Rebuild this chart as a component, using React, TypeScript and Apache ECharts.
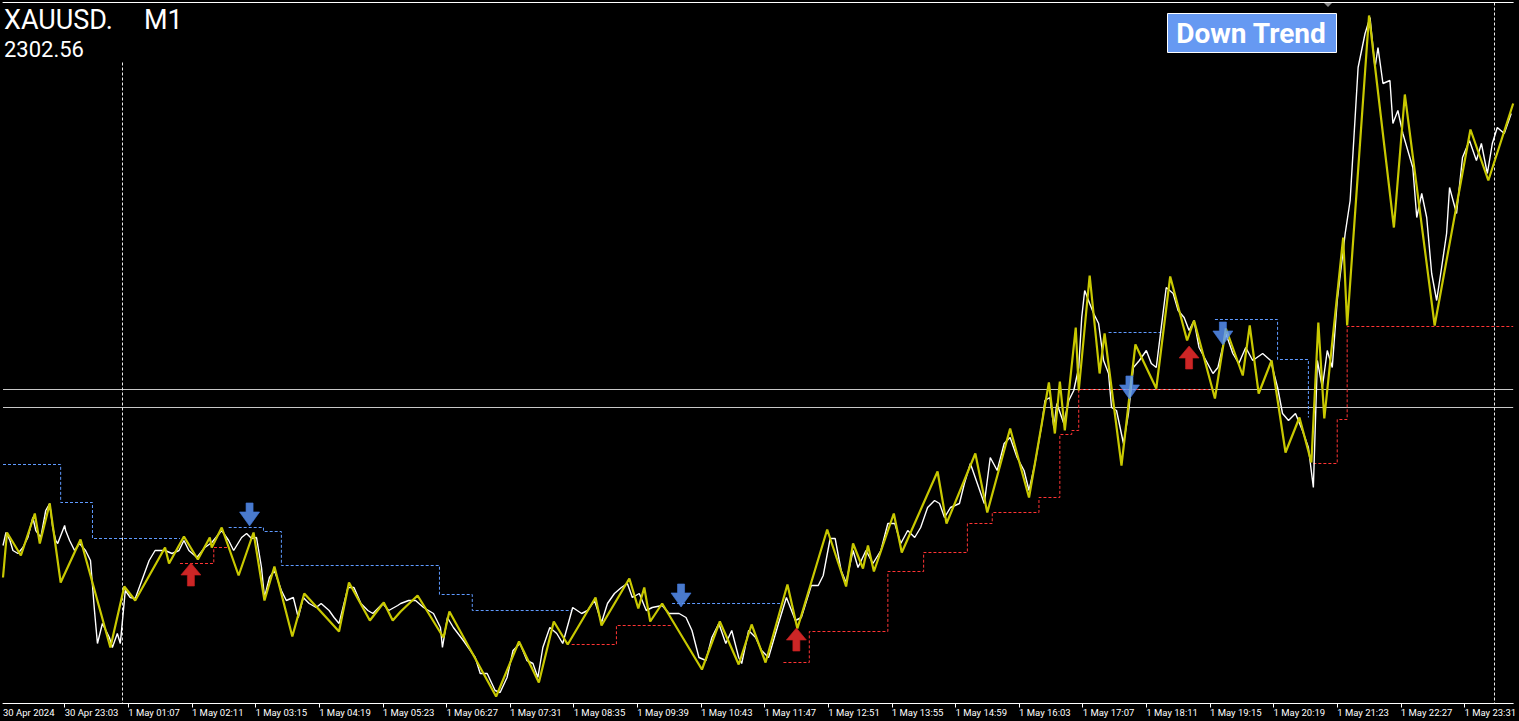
import React, { useEffect, useRef } from "react";
import * as echarts from "echarts";

// ---- texts ----
const symbolName = "XAUUSD.";
const timeframe = "M1";
const priceText = "2302.56";
const trendText = "Down Trend";

// ---- time axis (bar index = minute bars shown) ----
const firstLabelValue = 0;
const firstLabel = "30 Apr 2024";
const tickMinutes = [62, 126, 190, 254, 318, 382, 446, 510, 574, 638, 702, 766, 830, 894, 958, 1022, 1086, 1150, 1214, 1278, 1342, 1406, 1470];
const tickLabels = [
  "30 Apr 23:03", "1 May 01:07", "1 May 02:11", "1 May 03:15", "1 May 04:19", "1 May 05:23",
  "1 May 06:27", "1 May 07:31", "1 May 08:35", "1 May 09:39", "1 May 10:43", "1 May 11:47",
  "1 May 12:51", "1 May 13:55", "1 May 14:59", "1 May 16:03", "1 May 17:07", "1 May 18:11",
  "1 May 19:15", "1 May 20:19", "1 May 21:23", "1 May 22:27", "1 May 23:31",
];
const barMin = 0;
const barMax = 1519;
const priceMin = 2294.85;
const priceMax = 2329.9;

// ---- M1 close prices [bar, price] ----
const closePrices: [number, number][] = [
  [0, 2302.75], [3, 2303.4], [7, 2303.0], [10, 2302.5], [15, 2302.35], [20, 2302.65], [25, 2303.15], [30, 2304.15],
  [33, 2303.5], [38, 2303.15], [43, 2304.5], [47, 2304.85], [50, 2303.65], [53, 2303.0], [55, 2302.85], [62, 2303.75],
  [63, 2303.5], [67, 2303.0], [72, 2302.5], [77, 2302.85], [83, 2302.5], [88, 2302.0], [92, 2299.5], [95, 2297.85],
  [100, 2298.85], [107, 2298.15], [110, 2297.65], [115, 2298.35], [118, 2297.85], [123, 2300.5], [128, 2300.15], [133, 2300.1],
  [147, 2302.0], [153, 2302.5], [163, 2302.5], [170, 2302.35], [177, 2302.5], [182, 2303.0], [187, 2302.5], [195, 2302.15],
  [203, 2302.65], [210, 2302.9], [220, 2303.5], [227, 2303.0], [232, 2302.5], [240, 2303.15], [245, 2303.35], [250, 2303.1],
  [255, 2303.15], [260, 2301.65], [263, 2300.15], [268, 2301.15], [273, 2301.5], [280, 2300.5], [285, 2300.0], [292, 2300.15],
  [297, 2299.15], [302, 2300.15], [308, 2299.85], [315, 2299.65], [320, 2299.85], [328, 2299.5], [333, 2299.15], [338, 2298.85],
  [347, 2300.65], [353, 2300.65], [360, 2299.85], [367, 2299.5], [372, 2299.35], [382, 2299.85], [388, 2299.5], [397, 2299.75],
  [400, 2299.85], [408, 2300.0], [415, 2300.0], [423, 2299.65], [433, 2299.35], [440, 2298.65], [442, 2297.65], [447, 2299.15],
  [453, 2298.65], [463, 2298.0], [475, 2297.15], [480, 2296.35], [487, 2296.35], [495, 2295.5], [500, 2295.4], [507, 2296.15],
  [513, 2297.5], [520, 2297.85], [527, 2297.0], [533, 2296.85], [538, 2296.15], [543, 2297.65], [550, 2298.65], [557, 2298.35],
  [563, 2297.85], [573, 2299.65], [582, 2299.35], [588, 2299.5], [595, 2300.0], [602, 2298.9], [608, 2299.85], [615, 2300.35],
  [622, 2300.65], [628, 2300.85], [633, 2300.15], [640, 2300.35], [647, 2299.5], [653, 2299.65], [663, 2299.75], [670, 2299.35],
  [680, 2299.35], [687, 2299.15], [693, 2298.5], [700, 2297.15], [707, 2297.0], [713, 2298.15], [720, 2298.85], [727, 2297.85],
  [733, 2298.5], [740, 2297.15], [743, 2296.85], [750, 2298.5], [757, 2298.15], [763, 2297.5], [770, 2297.15], [780, 2298.85],
  [788, 2300.15], [797, 2299.0], [803, 2299.15], [813, 2300.75], [820, 2300.75], [825, 2301.25], [832, 2303.1], [837, 2303.1],
  [843, 2301.5], [848, 2300.9], [855, 2302.5], [860, 2301.65], [868, 2302.5], [875, 2301.85], [883, 2302.5], [890, 2303.85],
  [897, 2303.85], [903, 2302.85], [910, 2303.5], [917, 2303.15], [923, 2303.65], [930, 2304.65], [937, 2305.0], [942, 2304.85],
  [947, 2304.15], [953, 2304.65], [962, 2304.85], [967, 2305.85], [973, 2306.85], [980, 2305.85], [987, 2304.85], [993, 2307.15],
  [1000, 2306.5], [1007, 2307.85], [1013, 2308.15], [1020, 2307.15], [1027, 2306.5], [1032, 2305.5], [1038, 2306.85], [1045, 2308.85],
  [1048, 2310.0], [1053, 2310.15], [1057, 2308.65], [1060, 2309.85], [1067, 2308.85], [1072, 2310.0], [1077, 2310.5], [1082, 2311.65],
  [1085, 2314.15], [1088, 2315.5], [1093, 2314.85], [1097, 2314.35], [1102, 2313.85], [1107, 2312.0], [1112, 2311.35], [1115, 2309.65],
  [1120, 2309.5], [1127, 2307.85], [1132, 2309.35], [1137, 2311.65], [1143, 2312.0], [1150, 2312.5], [1155, 2311.85], [1160, 2311.65],
  [1165, 2313.65], [1170, 2315.65], [1177, 2315.35], [1182, 2314.5], [1188, 2314.15], [1193, 2313.5], [1198, 2314.0], [1203, 2312.65],
  [1210, 2312.0], [1217, 2311.35], [1222, 2311.65], [1230, 2313.35], [1237, 2312.35], [1243, 2311.85], [1250, 2312.65], [1257, 2312.0],
  [1267, 2312.35], [1275, 2312.0], [1282, 2310.65], [1287, 2309.35], [1293, 2309.0], [1300, 2309.35], [1307, 2308.5], [1313, 2307.65],
  [1318, 2305.65], [1322, 2312.0], [1327, 2310.65], [1332, 2312.5], [1337, 2311.65], [1342, 2315.0], [1350, 2318.35], [1355, 2320.0],
  [1360, 2324.15], [1363, 2326.65], [1370, 2328.35], [1375, 2329.15], [1380, 2326.65], [1383, 2327.65], [1388, 2325.85], [1395, 2326.0],
  [1398, 2323.85], [1403, 2324.5], [1408, 2323.35], [1413, 2322.5], [1418, 2321.65], [1422, 2319.15], [1427, 2320.35], [1432, 2319.15],
  [1437, 2316.35], [1442, 2315.0], [1447, 2316.65], [1452, 2318.35], [1455, 2320.65], [1462, 2319.35], [1468, 2322.15], [1475, 2323.0],
  [1482, 2322.0], [1487, 2322.85], [1493, 2321.35], [1498, 2322.85], [1503, 2323.65], [1510, 2323.35], [1517, 2324.35],
];

// ---- ZigZag turning points [bar, price] ----
const zigzagPoints: [number, number][] = [
  [0, 2301.15], [4, 2303.4], [18, 2302.25], [32, 2304.35], [37, 2302.85], [47, 2304.85], [58, 2300.9], [78, 2303.05],
  [108, 2297.65], [122, 2300.7], [133, 2300.0], [163, 2302.65], [167, 2301.85], [182, 2303.2], [196, 2302.05], [208, 2303.15],
  [210, 2302.65], [220, 2303.65], [237, 2301.25], [252, 2303.4], [263, 2300.0], [273, 2301.7], [291, 2298.2], [303, 2300.35],
  [338, 2298.45], [348, 2300.9], [369, 2299.0], [383, 2299.9], [392, 2299.0], [400, 2299.45], [417, 2300.25], [443, 2298.15],
  [449, 2299.45], [496, 2295.2], [519, 2297.95], [539, 2295.9], [554, 2298.95], [568, 2297.8], [596, 2300.15], [602, 2298.75],
  [630, 2301.1], [639, 2299.6], [645, 2300.65], [651, 2298.95], [663, 2299.85], [703, 2296.55], [721, 2298.95], [740, 2296.8],
  [753, 2298.8], [767, 2296.9], [789, 2300.8], [799, 2298.6], [829, 2303.55], [848, 2300.7], [855, 2302.85], [865, 2301.6],
  [870, 2302.75], [876, 2301.45], [896, 2304.35], [904, 2302.4], [940, 2306.45], [949, 2303.85], [978, 2307.35], [990, 2304.4],
  [1013, 2308.6], [1032, 2305.15], [1052, 2310.9], [1058, 2308.35], [1063, 2310.95], [1068, 2308.5], [1079, 2313.65], [1082, 2310.5],
  [1093, 2316.25], [1103, 2311.35], [1108, 2313.35], [1125, 2306.75], [1139, 2312.8], [1160, 2310.6], [1174, 2316.2], [1191, 2313.0],
  [1198, 2314.0], [1219, 2310.1], [1230, 2313.6], [1247, 2311.25], [1254, 2313.75], [1263, 2310.35], [1276, 2312.0], [1290, 2307.4],
  [1304, 2309.15], [1316, 2306.9], [1323, 2313.9], [1329, 2309.1], [1348, 2318.15], [1352, 2313.75], [1374, 2329.25], [1399, 2318.65],
  [1410, 2325.3], [1440, 2313.75], [1476, 2323.55], [1494, 2321.0], [1519, 2324.85],
];

// ---- resistance / support step levels [bar, level] ----
const resistanceSegments: [number, number][][] = [
  [[0, 2306.8], [58, 2304.9], [90, 2303.1], [178, 2303.1]],
  [[227, 2303.65], [262, 2303.45], [280, 2301.75], [439, 2300.3], [472, 2299.5], [572, 2299.5]],
  [[673, 2299.85], [783, 2299.85]],
  [[1112, 2313.4], [1165, 2313.4]],
  [[1219, 2314.05], [1282, 2312.05], [1313, 2309.15]],
];
const supportSegments: [number, number][][] = [
  [[178, 2301.85], [212, 2302.65], [227, 2302.65]],
  [[572, 2297.8], [617, 2298.75], [673, 2298.75]],
  [[785, 2296.9], [811, 2298.45], [890, 2301.45], [926, 2302.4], [970, 2303.85], [995, 2304.4], [1042, 2305.15], [1063, 2308.3], [1075, 2308.5], [1082, 2310.55], [1217, 2310.55]],
  [[1318, 2306.85], [1342, 2309.05], [1352, 2313.7], [1519, 2313.7]],
];

// ---- signals [bar, price] ----
const buyArrows: [number, number][] = [[189, 2301.3], [798, 2298.05], [1193, 2312.15]];
const sellArrows: [number, number][] = [[248, 2304.3], [682, 2300.25], [1133, 2310.65], [1227, 2313.35]];

// ---- horizontal price levels and period separators ----
const levelLines = [2310.55, 2309.65];
const separatorBars = [120, 1500];
const separatorTops = [2326.9, 2329.9];

const UP_ARROW = "path://M10 0 L20 12 L13.5 12 L13.5 23 L6.5 23 L6.5 12 L0 12 Z";
const DOWN_ARROW = "path://M6.5 0 L13.5 0 L13.5 9 L20 9 L10 23 L0 9 L6.5 9 Z";

export default function App() {
  const ref = useRef<HTMLDivElement>(null);

  useEffect(() => {
    if (!ref.current) return;
    const chart = echarts.init(ref.current, null, { renderer: "svg" });

    const labelMap: Record<number, string> = { [firstLabelValue]: firstLabel };
    tickMinutes.forEach((t, i) => (labelMap[t] = tickLabels[i]));

    const stepSeries = (segs: [number, number][][], color: string) =>
      segs.map((seg) => ({
        type: "line",
        data: seg,
        step: "end",
        showSymbol: false,
        silent: true,
        z: 1,
        lineStyle: { color, width: 1, type: [3, 2] },
      }));

    const markLineData: any[] = [
      ...levelLines.map((v) => [
        { coord: [barMin, v], lineStyle: { color: "#c8c8c8", width: 1, type: "solid" } },
        { coord: [barMax, v] },
      ]),
      ...separatorBars.map((b, i) => [
        { coord: [b, separatorTops[i]], lineStyle: { color: "#ececec", width: 1, type: [3, 2] } },
        { coord: [b, priceMin] },
      ]),
    ];

    chart.setOption({
      animation: false,
      backgroundColor: "#000000",
      grid: { left: 0.5, top: 2.5, width: 1519, height: 701 },
      xAxis: [
        {
          type: "value",
          min: barMin,
          max: barMax,
          position: "bottom",
          axisLine: { show: true, lineStyle: { color: "#ffffff", width: 1 } },
          axisTick: { show: true, customValues: tickMinutes, length: 4, lineStyle: { color: "#ffffff" } },
          axisLabel: {
            show: true,
            customValues: [firstLabelValue, ...tickMinutes],
            formatter: (v: number) => labelMap[v] ?? "",
            color: "#ffffff",
            fontFamily: "Roboto",
            fontSize: 9.5,
            align: "left",
            margin: 4,
          },
          splitLine: { show: false },
        },
        {
          type: "value",
          min: barMin,
          max: barMax,
          position: "top",
          axisLine: { show: true, lineStyle: { color: "#ffffff", width: 1 } },
          axisTick: { show: false },
          axisLabel: { show: false },
          splitLine: { show: false },
        },
      ],
      yAxis: {
        type: "value",
        min: priceMin,
        max: priceMax,
        show: false,
        splitLine: { show: false },
      },
      series: [
        ...stepSeries(resistanceSegments, "#5f9aff"),
        ...stepSeries(supportSegments, "#ff3434"),
        {
          type: "line",
          name: "Close",
          data: closePrices,
          showSymbol: false,
          silent: true,
          z: 2,
          lineStyle: { color: "#ffffff", width: 1.4 },
          markLine: {
            silent: true,
            symbol: "none",
            label: { show: false },
            z: 0,
            data: markLineData,
          },
        },
        {
          type: "line",
          name: "ZigZag",
          data: zigzagPoints,
          showSymbol: false,
          silent: true,
          z: 3,
          lineStyle: { color: "#c8c800", width: 2.2 },
        },
        {
          type: "scatter",
          name: "Buy",
          data: buyArrows,
          symbol: UP_ARROW,
          symbolSize: [20, 23],
          silent: true,
          z: 4,
          itemStyle: { color: "#ff3030", borderColor: "#c82020", borderWidth: 0.8 },
        },
        {
          type: "scatter",
          name: "Sell",
          data: sellArrows,
          symbol: DOWN_ARROW,
          symbolSize: [20, 23],
          silent: true,
          z: 4,
          itemStyle: { color: "#5c98ff", borderColor: "#4078dc", borderWidth: 0.8 },
        },
      ],
      graphic: [
        {
          type: "text",
          left: 4,
          top: 6,
          style: { text: symbolName, fill: "#ffffff", font: "27px Roboto" },
        },
        {
          type: "text",
          left: 144,
          top: 6,
          style: { text: timeframe, fill: "#ffffff", font: "27px Roboto" },
        },
        {
          type: "text",
          left: 4,
          top: 38,
          style: { text: priceText, fill: "#ffffff", font: "22px Roboto" },
        },
        {
          type: "rect",
          left: 1167,
          top: 13,
          shape: { x: 0, y: 0, width: 169, height: 39 },
          style: { fill: "#6699f2", stroke: "#ffffff", lineWidth: 1 },
          z: 10,
        },
        {
          type: "text",
          x: 1251,
          y: 33,
          z: 11,
          style: {
            text: trendText,
            fill: "#ffffff",
            font: "bold 28px Roboto",
            textAlign: "center",
            textVerticalAlign: "middle",
          },
        },
        {
          type: "polygon",
          shape: { points: [[1324, 3], [1332, 3], [1328, 7]] },
          style: { fill: "#8a8a8a" },
          z: 10,
        },
      ],
    });

    return () => chart.dispose();
  }, []);

  return (
    <div
      ref={ref}
      style={{ position: "absolute", left: 0, top: 0, width: 1519, height: 721, background: "#000" }}
    />
  );
}
